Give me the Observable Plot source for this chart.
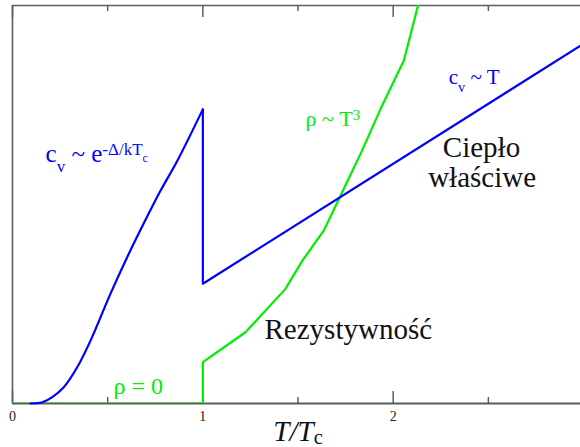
<!DOCTYPE html>
<html><head><meta charset="utf-8">
<script src="https://cdn.jsdelivr.net/npm/d3@7"></script>
<script src="https://cdn.jsdelivr.net/npm/@observablehq/plot@0.6"></script>
<style>body{margin:0;background:#fff} svg{display:block}</style>
</head><body><div id="chart"></div>
<script>
// Specific heat (blue): superconducting branch (T < Tc)
const cvLowT = [0.095, 0.157, 0.209, 0.268, 0.340, 0.410, 0.515, 0.603, 0.689, 0.778, 0.866, 1.0];
const cvLowV = [0, 0.003, 0.016, 0.040, 0.091, 0.158, 0.276, 0.368, 0.452, 0.535, 0.610, 0.739];
// Specific heat (blue): jump at Tc and linear normal-state branch
const cvHighT = [1.0, 1.0, 2.984];
const cvHighV = [0.739, 0.301, 0.899];
// Resistivity (green)
const rhoT = [0, 1.0, 1.0, 1.224, 1.434, 1.523, 1.636, 1.718, 1.837, 1.942, 2.056, 2.131];
const rhoV = [0, 0, 0.104, 0.179, 0.288, 0.359, 0.435, 0.517, 0.636, 0.749, 0.862, 1.001];
// Axis ticks
const minorTicks = [0.5, 1.5, 2.5];
const majorTicks = [0, 1, 2];
const tickLabels = ["0", "1", "2"];
// Annotations
const blueNotes = ["c_{v} ~ e^{-Δ/kT_{c}}", "c_{v} ~ T"];
const blueNoteX = [0.174, 2.292];
const blueNoteY = [0.606, 0.803];
const greenNotes = ["ρ ~ T^{3}", "ρ = 0"];
const greenNoteX = [1.539, 0.531];
const greenNoteY = [0.698, 0.025];
const heatNotes = ["Ciepło", "właściwe"];
const heatNoteX = [2.464, 2.467];
const heatNoteY = [0.619, 0.543];
const resNote = ["Rezystywność"];
const resNoteX = [1.324];
const resNoteY = [0.163];
const axisTitle = ["T/T_{c}"];
const axisTitleX = [1.5];
const axisTitleY = [-0.093];

const BLUE = "#0000ff", GREEN = "#00ee00", AX = "#5c5c5c";
const SERIF = "Liberation Serif";
const idx = a => a.map((_, i) => i);

const svg = Plot.plot({
  width: 580, height: 447,
  marginLeft: 12, marginRight: 0, marginTop: 5, marginBottom: 44,
  style: {fontFamily: SERIF, background: "#fff", overflow: "visible"},
  x: {domain: [0, 2.984], axis: null},
  y: {domain: [0, 1], axis: null},
  marks: [
    Plot.ruleY([1], {stroke: AX, strokeWidth: 1.6}),
    Plot.ruleX([0], {stroke: AX, strokeWidth: 1.6}),
    Plot.ruleY([0], {stroke: AX, strokeWidth: 1.8}),
    // inward ticks, bottom and top
    Plot.tickX(minorTicks, {x: d => d, stroke: AX, strokeWidth: 1.5, insetTop: 392}),
    Plot.tickX(majorTicks, {x: d => d, stroke: AX, strokeWidth: 1.5, insetTop: 386}),
    Plot.tickX(minorTicks, {x: d => d, stroke: AX, strokeWidth: 1.5, insetBottom: 392}),
    Plot.tickX(majorTicks, {x: d => d, stroke: AX, strokeWidth: 1.5, insetBottom: 386}),
    Plot.axisX({anchor: "bottom", ticks: majorTicks, tickSize: 0, tickPadding: 8, fontSize: 14, fill: "#222",
      fontFamily: SERIF, tickFormat: d => tickLabels[majorTicks.indexOf(d)], label: null}),
    Plot.line(idx(rhoT), {x: i => rhoT[i], y: i => rhoV[i], stroke: GREEN, strokeWidth: 2.2, clip: true}),
    Plot.line(idx(cvLowT), {x: i => cvLowT[i], y: i => cvLowV[i], stroke: BLUE, strokeWidth: 2.2, curve: "catmull-rom"}),
    Plot.line(idx(cvHighT), {x: i => cvHighT[i], y: i => cvHighV[i], stroke: BLUE, strokeWidth: 2.2, clip: true}),
    Plot.text(idx(blueNotes), {x: i => blueNoteX[i], y: i => blueNoteY[i], text: i => blueNotes[i],
      fill: BLUE, fontFamily: SERIF, fontSize: i => i === 0 ? 25 : 21, textAnchor: "start", lineAnchor: "bottom"}),
    Plot.text(idx(greenNotes), {x: i => greenNoteX[i], y: i => greenNoteY[i], text: i => greenNotes[i],
      fill: GREEN, fontFamily: SERIF, fontSize: i => i === 0 ? 22 : 24, textAnchor: "start", lineAnchor: "bottom"}),
    Plot.text(idx(heatNotes), {x: i => heatNoteX[i], y: i => heatNoteY[i], text: i => heatNotes[i],
      fill: "#111", fontFamily: SERIF, fontSize: 29, textAnchor: "middle", lineAnchor: "bottom"}),
    Plot.text(idx(resNote), {x: i => resNoteX[i], y: i => resNoteY[i], text: i => resNote[i],
      fill: "#111", fontFamily: SERIF, fontSize: 29, textAnchor: "start", lineAnchor: "bottom"}),
    Plot.text(idx(axisTitle), {x: i => axisTitleX[i], y: i => axisTitleY[i], text: i => axisTitle[i],
      fill: "#111", fontFamily: SERIF, fontSize: 29, fontStyle: "italic", textAnchor: "middle", lineAnchor: "bottom"})
  ]
});
document.getElementById("chart").appendChild(svg);

// Render _{...} and ^{...} markup as sub/superscript tspans
function parseMarkup(s) {
  const out = [], stack = [];
  let buf = "";
  for (let i = 0; i < s.length; i++) {
    const ch = s[i];
    if ((ch === "_" || ch === "^") && s[i + 1] === "{") {
      if (buf) { out.push({t: buf, m: stack.slice()}); buf = ""; }
      stack.push(ch); i++;
    } else if (ch === "}" && stack.length) {
      if (buf) { out.push({t: buf, m: stack.slice()}); buf = ""; }
      stack.pop();
    } else buf += ch;
  }
  if (buf) out.push({t: buf, m: stack.slice()});
  return out;
}
d3.select(svg).selectAll("text").each(function () {
  const s = this.textContent;
  if (!/[_^]\{/.test(s)) return;
  const F = parseFloat(getComputedStyle(this).fontSize);
  const isTitle = s === axisTitle[0];
  const st = isTitle ? {sub: 0.12, sup: 0.3, scale: 0.7} : {sub: 0.4, sup: 0.28, scale: 0.68};
  this.textContent = "";
  let cur = 0;
  for (const seg of parseMarkup(s)) {
    let size = F, off = 0;
    for (const m of seg.m) { off += (m === "_" ? st.sub : -st.sup) * size; size *= st.scale; }
    const t = d3.select(this).append("tspan").attr("font-size", size).text(seg.t);
    if (Math.abs(off - cur) > 1e-6) t.attr("dy", off - cur);
    if (isTitle && seg.m.length) t.attr("font-style", "normal");
    cur = off;
  }
});
</script>
</body></html>
